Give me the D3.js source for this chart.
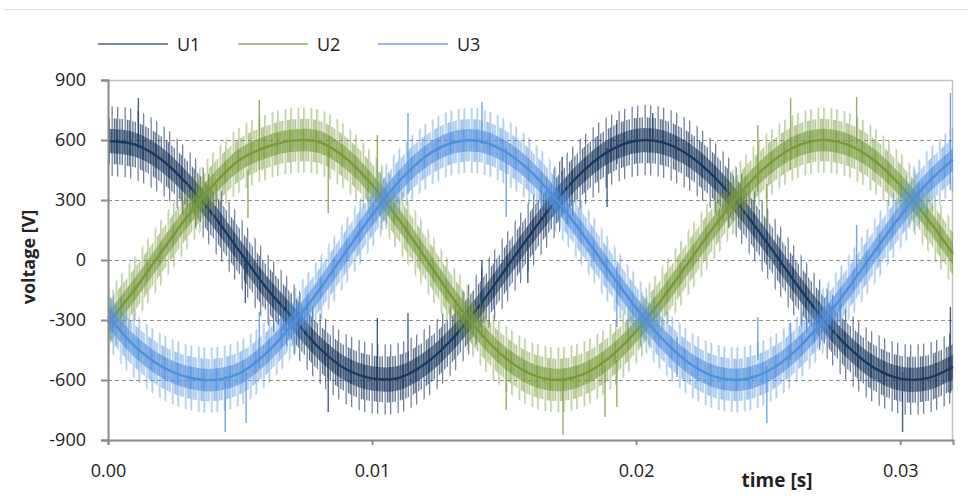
<!DOCTYPE html>
<html>
<head>
<meta charset="utf-8">
<script src="https://cdn.jsdelivr.net/npm/d3@7"></script>
<style>
  body { margin: 0; background: #fff; }
  text { font-family: "Open Sans", "Noto Sans", sans-serif; fill: #222; }
</style>
</head>
<body>
<svg id="chart" width="970" height="496"></svg>
<script>
// sample times [s]
var times = [0.000, 0.001, 0.002, 0.003, 0.004, 0.005, 0.006, 0.007, 0.008, 0.009, 0.010,
             0.011, 0.012, 0.013, 0.014, 0.015, 0.016, 0.017, 0.018, 0.019, 0.020,
             0.021, 0.022, 0.023, 0.024, 0.025, 0.026, 0.027, 0.028, 0.029, 0.030,
             0.031, 0.032];

// mean voltage of each phase [V]
var u1 = [595, 578, 505, 380, 222, 40, -140, -290, -440, -545, -592, -590, -520, -400, -240, -56,
          129, 302, 446, 547, 596, 588, 524, 410, 256, 78, -107, -282, -431, -538, -593, -592, -535];
var u2 = [-319, -149, 36, 217, 377, 502, 565, 597, 590, 510, 375, 205, 15, -180, -350, -485,
          -570, -600, -571, -487, -356, -192, -9, 175, 342, 476, 565, 600, 577, 500, 374, 213, 31];
var u3 = [-280, -429, -530, -585, -600, -565, -465, -320, -150, 40, 225, 390, 515, 585, 596, 545,
          443, 298, 125, -60, -240, -396, -515, -584, -598, -554, -458, -317, -147, 38, 219, 380, 503];

// half width of the switching ripple [V]
var ripple = [135, 125, 125];

// single spikes: [time, low, high]
var spikesU1 = [[0.00115, 560, 810], [0.0052, -215, 0], [0.00834, -760, -420], [0.0102, -600, -290],
                [0.01136, -560, -265], [0.01416, -240, 0], [0.0159, -115, 100], [0.0172, 235, 515],
                [0.0189, 265, 560], [0.01927, 480, 700], [0.02063, 600, 735], [0.03009, -860, -560],
                [0.0319, -665, -235]];
var spikesU2 = [[0.0053, 210, 450], [0.00573, 450, 800], [0.00834, 235, 560], [0.0102, 300, 625],
                [0.01508, -750, -450], [0.01723, -875, -600], [0.01882, -785, -530], [0.01927, -735, -500],
                [0.02461, 340, 675], [0.02495, 165, 380], [0.02585, 450, 810], [0.02835, 580, 815]];
var spikesU3 = [[0.00444, -860, -580], [0.00523, -815, -560], [0.00573, -540, -260], [0.01136, 330, 735],
                [0.01416, 580, 790], [0.01508, 215, 560], [0.01927, -335, -35], [0.02155, -585, -385],
                [0.02461, -500, -285], [0.02495, -815, -530], [0.02585, -500, -315], [0.02835, -80, 175],
                [0.0319, 350, 835]];

var names = ["U1", "U2", "U3"];
var yTicks = [-900, -600, -300, 0, 300, 600, 900];
var xTicks = [0, 0.01, 0.02, 0.03];

var colors = ["#1C385F", "#789A3A", "#4F90DC"];
var series = [u1, u2, u3];
var spikes = [spikesU1, spikesU2, spikesU3];

var svg = d3.select("#chart");

var x = d3.scaleLinear().domain([0, 0.032]).range([108, 953]);
var y = d3.scaleLinear().domain([-900, 900]).range([440, 80]);

// thin line at the very top of the picture
svg.append("line")
    .attr("x1", 4).attr("x2", 968).attr("y1", 9.5).attr("y2", 9.5)
    .attr("stroke", "#dcdcdc").attr("stroke-width", 1);

// hatch patterns for the ripple bands: three nested bands, each one
// with its own uneven stroke spacing, so stroke lengths look ragged
var hatch = [
    { scale: 1.3,  w: 13, xs: [0, 7.5],                 op: 0.62 },
    { scale: 0.85, w: 13, xs: [2.2, 4.6, 9.8, 11.6],    op: 0.7 },
    { scale: 0.45, w: 13, xs: [0, 1.5, 3.3, 5.4, 6.8, 8.5, 10.3, 12], op: 0.78 }
];

var defs = svg.append("defs");
colors.forEach(function(c, i) {
    hatch.forEach(function(h, j) {
        var p = defs.append("pattern")
            .attr("id", "hatch" + i + "_" + j)
            .attr("patternUnits", "userSpaceOnUse")
            .attr("width", h.w).attr("height", 10)
            .attr("x", i * 4.3);
        h.xs.forEach(function(xx) {
            p.append("rect").attr("x", xx).attr("width", 1.3).attr("height", 10)
                .attr("fill", c).attr("fill-opacity", h.op);
        });
    });
});

// grid
svg.append("g")
    .selectAll("line")
    .data(yTicks.filter(function(d) { return d > -900 && d < 900; }))
    .enter().append("line")
        .attr("x1", 108).attr("x2", 953)
        .attr("y1", function(d) { return y(d) + 0.5; })
        .attr("y2", function(d) { return y(d) + 0.5; })
        .attr("stroke", "#8f8f8f")
        .attr("stroke-width", 1.2)
        .attr("stroke-dasharray", "4,3");

// plot frame (top / right)
svg.append("path")
    .attr("d", "M108,80.5H952.5V440")
    .attr("fill", "none")
    .attr("stroke", "#c4c4c4")
    .attr("stroke-width", 1.5);

// series
var plot = svg.append("g");

series.forEach(function(vals, s) {
    var g = plot.append("g");
    var pts = times.map(function(t, i) { return { t: t, v: vals[i] }; });
    var r = ripple[s];

    hatch.forEach(function(h, j) {
        var band = d3.area()
            .x(function(d) { return x(d.t); })
            .y0(function(d) { return y(d.v - r * h.scale); })
            .y1(function(d) { return y(d.v + r * h.scale); })
            .curve(d3.curveCatmullRom);
        g.append("path").datum(pts).attr("d", band).attr("fill", "url(#hatch" + s + "_" + j + ")");
    });

    g.selectAll(".spike")
        .data(spikes[s])
        .enter().append("line")
            .attr("class", "spike")
            .attr("x1", function(d) { return x(d[0]); })
            .attr("x2", function(d) { return x(d[0]); })
            .attr("y1", function(d) { return y(d[1]); })
            .attr("y2", function(d) { return y(d[2]); })
            .attr("stroke", colors[s])
            .attr("stroke-opacity", 0.8)
            .attr("stroke-width", 1.4);

    var line = d3.line()
        .x(function(d) { return x(d.t); })
        .y(function(d) { return y(d.v); })
        .curve(d3.curveCatmullRom);

    g.append("path").datum(pts)
        .attr("d", line)
        .attr("fill", "none")
        .attr("stroke", colors[s])
        .attr("stroke-width", 2.4);
});

// axes
var yAxis = svg.append("g")
    .attr("transform", "translate(108,0)")
    .call(d3.axisLeft(y)
        .tickValues(yTicks)
        .tickSize(7)
        .tickPadding(15)
        .tickFormat(function(d) { return String(d); }));

var xAxis = svg.append("g")
    .attr("transform", "translate(0,440)")
    .call(d3.axisBottom(x)
        .tickValues(xTicks)
        .tickSize(5)
        .tickPadding(19)
        .tickFormat(d3.format(".2f")));

[yAxis, xAxis].forEach(function(a) {
    a.select(".domain").attr("stroke", "#8a8a8a").attr("stroke-width", 2);
    a.selectAll(".tick line").attr("stroke", "#8a8a8a").attr("stroke-width", 2);
    a.selectAll("text")
        .style("font-family", '"Open Sans", "Noto Sans", sans-serif')
        .style("font-size", "18px")
        .attr("fill", "#222");
});

// axis titles
svg.append("text")
    .attr("transform", "translate(35,257) rotate(-90)")
    .attr("text-anchor", "middle")
    .style("font-size", "18px")
    .style("font-weight", "bold")
    .text("voltage [V]");

svg.append("text")
    .attr("x", 777)
    .attr("y", 487)
    .attr("text-anchor", "middle")
    .style("font-size", "19px")
    .style("font-weight", "bold")
    .text("time [s]");

// legend
var legend = svg.append("g")
    .selectAll("g")
    .data(names)
    .enter().append("g")
        .attr("transform", function(d, i) { return "translate(" + (98 + i * 140) + ",44)"; });

legend.append("line")
    .attr("x1", 0).attr("x2", 70)
    .attr("stroke", function(d, i) { return colors[i]; })
    .attr("stroke-opacity", 0.6)
    .attr("stroke-width", 2);

legend.append("text")
    .attr("x", 79)
    .attr("y", 7)
    .style("font-size", "18px")
    .text(function(d) { return d; });
</script>
</body>
</html>
